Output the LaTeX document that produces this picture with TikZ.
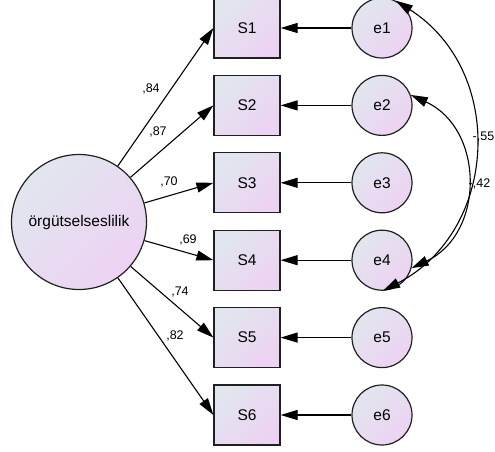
\documentclass[tikz,border=0pt]{standalone}
\usepackage{fontspec}
\setmainfont{Liberation Sans}
\usetikzlibrary{arrows.meta}

\definecolor{fillA}{HTML}{E1E6EE}
\definecolor{fillB}{HTML}{EDD2F3}
\definecolor{edge}{HTML}{202020}

\begin{document}
\begin{tikzpicture}[x=1pt,y=1pt,
  latent/.style={draw=edge, circle, line width=1.2pt, inner sep=0pt,
    top color=fillA, bottom color=fillB, shading angle=45,
    font=\fontsize{15.5}{18}\selectfont},
  obs/.style={latent, rectangle, minimum width=66pt, minimum height=60pt},
  err/.style={latent, minimum size=60pt},
  coef/.style={inner sep=0pt, font=\fontsize{12.5}{14}\selectfont},
  load/.style={draw, line width=1.1pt, -{Triangle[length=17pt,width=10pt]}},
  cov/.style={draw, line width=1.1pt,
    {Triangle[length=17pt,width=10pt]}-{Triangle[length=17pt,width=10pt]}}
]
\useasboundingbox (0,0) rectangle (495,-452);

\node[latent, minimum size=135pt] (f) at (79,-222) {örgütselseslilik};

\node[obs] (s1) at (247,-28) {S1};
\node[obs] (s2) at (247,-105.4) {S2};
\node[obs] (s3) at (247,-182.8) {S3};
\node[obs] (s4) at (247,-260.2) {S4};
\node[obs] (s5) at (247,-337.6) {S5};
\node[obs] (s6) at (247,-415) {S6};

\node[err] (e1) at (382,-28) {e1};
\node[err] (e2) at (382,-105.4) {e2};
\node[err] (e3) at (382,-182.8) {e3};
\node[err] (e4) at (382,-260.2) {e4};
\node[err] (e5) at (382,-337.6) {e5};
\node[err] (e6) at (382,-415) {e6};

% loadings
\path[load] (f) -- (s1.west);
\path[load] (f) -- (s2.west);
\path[load] (f) -- (s3.west);
\path[load] (f) -- (s4.west);
\path[load] (f) -- (s5.west);
\path[load] (f) -- (s6.west);

\node[coef] (l1) at (151,-89) {,84};
\node[coef] (l2) at (158,-132) {,87};
\node[coef] (l3) at (169,-182) {,70};
\node[coef] (l4) at (188,-240) {,69};
\node[coef] (l5) at (180,-292) {,74};
\node[coef] (l6) at (175,-336) {,82};

% errors
\path[load] (e1) -- (s1);
\path[load] (e2) -- (s2);
\path[load] (e3) -- (s3);
\path[load] (e4) -- (s4);
\path[load] (e5) -- (s5);
\path[load] (e6) -- (s6);

% covariances
\path[cov] (e1.63) to[bend left=60, looseness=1.15] (e4.-88);
\path[cov] (e2.20) to[bend left=65, looseness=1.2] (e4.-15);

\node[coef] (c14) at (483.5,-137) {-,55};
\node[coef] (c24) at (479.5,-183.5) {-,42};
\end{tikzpicture}
\end{document}
